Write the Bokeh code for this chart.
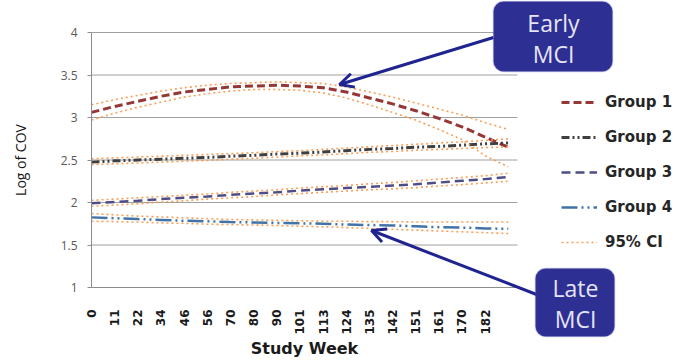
import math

from bokeh.embed import file_html
from bokeh.models import (Arrow, BoxAnnotation, FixedTicker, Label, Legend,
                          LegendItem, OpenHead, Range1d)
from bokeh.plotting import figure
from bokeh.resources import INLINE

# ---- data -------------------------------------------------------------
weeks = ["0", "11", "22", "34", "46", "56", "70", "80", "90", "101",
         "113", "124", "135", "142", "151", "161", "170", "182"]

y_ticks = [1, 1.5, 2, 2.5, 3, 3.5, 4]
y_tick_labels = ["1", "1.5", "2", "2.5", "3", "3.5", "4"]

group1 = [3.06, 3.13, 3.19, 3.25, 3.30, 3.33, 3.36, 3.37, 3.38, 3.37,
          3.35, 3.30, 3.23, 3.16, 3.08, 2.99, 2.89, 2.77, 2.65]
group1_hi = [3.15, 3.21, 3.26, 3.31, 3.35, 3.38, 3.40, 3.41, 3.42, 3.41,
             3.40, 3.36, 3.30, 3.24, 3.17, 3.10, 3.03, 2.94, 2.86]
group1_lo = [2.97, 3.05, 3.12, 3.18, 3.24, 3.28, 3.31, 3.33, 3.33, 3.32,
             3.29, 3.23, 3.15, 3.06, 2.97, 2.86, 2.74, 2.55, 2.42]

group2 = [2.475, 2.49, 2.50, 2.51, 2.52, 2.53, 2.545, 2.555, 2.57, 2.58,
          2.595, 2.61, 2.625, 2.635, 2.65, 2.66, 2.675, 2.69, 2.70]
group2_hi = [2.515, 2.525, 2.535, 2.545, 2.555, 2.565, 2.575, 2.585, 2.60, 2.61,
             2.625, 2.64, 2.655, 2.67, 2.685, 2.70, 2.715, 2.73, 2.75]
group2_lo = [2.445, 2.455, 2.465, 2.475, 2.485, 2.495, 2.51, 2.52, 2.535, 2.55,
             2.56, 2.575, 2.59, 2.60, 2.615, 2.625, 2.635, 2.645, 2.655]

group3 = [1.99, 2.005, 2.02, 2.04, 2.055, 2.07, 2.09, 2.105, 2.12, 2.14,
          2.155, 2.17, 2.185, 2.20, 2.215, 2.235, 2.255, 2.275, 2.30]
group3_hi = [2.025, 2.04, 2.055, 2.07, 2.085, 2.10, 2.12, 2.135, 2.15, 2.17,
             2.185, 2.20, 2.22, 2.235, 2.255, 2.275, 2.295, 2.315, 2.345]
group3_lo = [1.955, 1.97, 1.985, 2.005, 2.02, 2.04, 2.055, 2.07, 2.09, 2.105,
             2.12, 2.135, 2.15, 2.16, 2.175, 2.195, 2.21, 2.23, 2.25]

group4 = [1.825, 1.815, 1.805, 1.795, 1.785, 1.78, 1.77, 1.765, 1.76, 1.755,
          1.75, 1.74, 1.735, 1.73, 1.72, 1.71, 1.705, 1.695, 1.69]
group4_hi = [1.87, 1.855, 1.84, 1.83, 1.82, 1.81, 1.80, 1.795, 1.79, 1.785,
             1.78, 1.78, 1.775, 1.775, 1.77, 1.77, 1.77, 1.77, 1.77]
group4_lo = [1.78, 1.775, 1.77, 1.76, 1.755, 1.745, 1.74, 1.735, 1.73, 1.72,
             1.715, 1.705, 1.695, 1.685, 1.675, 1.665, 1.655, 1.645, 1.635]

positions = list(range(len(group1)))

# ---- geometry ---------------------------------------------------------
# The frame fills the whole canvas so the callouts and legend can sit
# beside the plotting area; axes are pinned with fixed_location.
W, H = 679, 360
AREA_LEFT, AREA_RIGHT, AREA_TOP, AREA_BOTTOM = 91, 517, 32, 287
X_END = 18.4
Y_MIN, Y_MAX = 1, 4
PX_X = (AREA_RIGHT - AREA_LEFT) / X_END
PX_Y = (AREA_BOTTOM - AREA_TOP) / (Y_MAX - Y_MIN)


def to_x(px):
    """canvas pixel column -> data x"""
    return (px - AREA_LEFT) / PX_X


def to_y(py):
    """canvas pixel row -> data y"""
    return Y_MIN + (AREA_BOTTOM - py) / PX_Y


p = figure(width=W, height=H, output_backend="svg", toolbar_location=None,
           x_range=Range1d(to_x(0), to_x(W)), y_range=Range1d(to_y(H), to_y(0)),
           min_border=0)
p.outline_line_color = None
p.background_fill_color = "white"
p.border_fill_color = "white"

# horizontal gridlines, limited to the plotting area
p.xgrid.visible = False
p.ygrid.visible = False
p.segment(x0=0, x1=X_END, y0=y_ticks, y1=y_ticks, line_color="#a0a0a0", line_width=1)

# axes
p.xaxis.fixed_location = Y_MIN
p.xaxis.bounds = (0, X_END)
p.xaxis.ticker = FixedTicker(ticks=list(range(len(weeks))))
p.xaxis.major_label_overrides = {i: w for i, w in enumerate(weeks)}
p.xaxis.major_label_orientation = math.pi / 2
p.xaxis.major_tick_line_color = None
p.xaxis.minor_tick_line_color = None
p.xaxis.major_label_standoff = 16
p.xaxis.major_label_text_font = "DejaVu Sans"
p.xaxis.major_label_text_font_style = "bold"
p.xaxis.major_label_text_font_size = "12px"
p.xaxis.major_label_text_color = "#1a1a1a"
p.xaxis.axis_line_color = "#8c8c8c"
p.xaxis.axis_label = "Study Week"
p.xaxis.axis_label_text_font = "DejaVu Sans"
p.xaxis.axis_label_text_font_style = "bold"
p.xaxis.axis_label_text_font_size = "16px"
p.xaxis.axis_label_text_color = "#1a1a1a"
p.xaxis.axis_label_standoff = 1

p.yaxis.fixed_location = 0
p.yaxis.bounds = (Y_MIN, Y_MAX)
p.yaxis.ticker = FixedTicker(ticks=y_ticks)
p.yaxis.major_label_overrides = {t: s for t, s in zip(y_ticks, y_tick_labels)}
p.yaxis.major_tick_out = 4
p.yaxis.major_tick_in = 0
p.yaxis.major_tick_line_color = "#8c8c8c"
p.yaxis.minor_tick_line_color = None
p.yaxis.axis_line_color = "#8c8c8c"
p.yaxis.major_label_standoff = 10
p.yaxis.major_label_text_font = "Open Sans"
p.yaxis.major_label_text_font_size = "12px"
p.yaxis.major_label_text_color = "#595959"
p.yaxis.axis_label = "Log of COV"
p.yaxis.axis_label_text_font = "Open Sans"
p.yaxis.axis_label_text_font_style = "normal"
p.yaxis.axis_label_text_font_size = "14px"
p.yaxis.axis_label_text_color = "#1a1a1a"
p.yaxis.axis_label_standoff = 28

# ---- series -----------------------------------------------------------
r1 = p.line(positions, group1, line_color="#953735", line_width=3, line_dash="8 4")
r2 = p.line(positions, group2, line_color="#3f3f3f", line_width=3, line_dash="8 3 2 3 2 3")
r3 = p.line(positions, group3, line_color="#4f4d85", line_width=2.5, line_dash="9 5")
r4 = p.line(positions, group4, line_color="#4273a8", line_width=2.5, line_dash="16 4 2 4 2 4")

ci_style = dict(line_color="#f79646", line_width=1.6, line_dash="2 3", line_alpha=0.9)
ci_renderers = []
for band in (group1_hi, group1_lo, group2_hi, group2_lo,
             group3_hi, group3_lo, group4_hi, group4_lo):
    ci_renderers.append(p.line(positions, band, **ci_style))

legend = Legend(items=[
    LegendItem(label="Group 1", renderers=[r1]),
    LegendItem(label="Group 2", renderers=[r2]),
    LegendItem(label="Group 3", renderers=[r3]),
    LegendItem(label="Group 4", renderers=[r4]),
    LegendItem(label="95% CI", renderers=[ci_renderers[0]]),
], location=(561, H - 252), orientation="vertical",
    glyph_width=36, glyph_height=20, label_height=20, label_standoff=8,
    spacing=15, padding=0, margin=0,
    border_line_alpha=0, background_fill_alpha=0,
    label_text_font="DejaVu Sans", label_text_font_style="bold",
    label_text_font_size="15px", label_text_color="#262626")
p.add_layout(legend)

# ---- callouts ---------------------------------------------------------
NAVY = "#2d2f92"
ARROW = "#1f2490"
TEXT = "#e4e4f6"

p.add_layout(Arrow(x_start=to_x(493), y_start=to_y(37), x_end=to_x(339), y_end=to_y(84),
                   line_color=ARROW, line_width=3,
                   end=OpenHead(size=14, line_color=ARROW, line_width=3)))
p.add_layout(Arrow(x_start=to_x(536), y_start=to_y(294), x_end=to_x(371), y_end=to_y(230),
                   line_color=ARROW, line_width=3,
                   end=OpenHead(size=14, line_color=ARROW, line_width=3)))

p.add_layout(BoxAnnotation(left=to_x(493), right=to_x(612), top=to_y(1), bottom=to_y(71),
                           fill_color=NAVY, fill_alpha=1, line_color="#5557b8",
                           line_width=1.5, border_radius=10))
p.add_layout(BoxAnnotation(left=to_x(535), right=to_x(614), top=to_y(268), bottom=to_y(336),
                           fill_color=NAVY, fill_alpha=1, line_color="#5557b8",
                           line_width=1.5, border_radius=10))

for text, px, py in (("Early", 553, 22), ("MCI", 553, 53), ("Late", 575, 287), ("MCI", 575, 318)):
    p.add_layout(Label(x=to_x(px), y=to_y(py), text=text, text_align="center",
                       text_baseline="middle", text_font="Open Sans",
                       text_font_size="23px", text_color=TEXT, level="overlay"))

open("out.html", "w").write(file_html(p, INLINE))
